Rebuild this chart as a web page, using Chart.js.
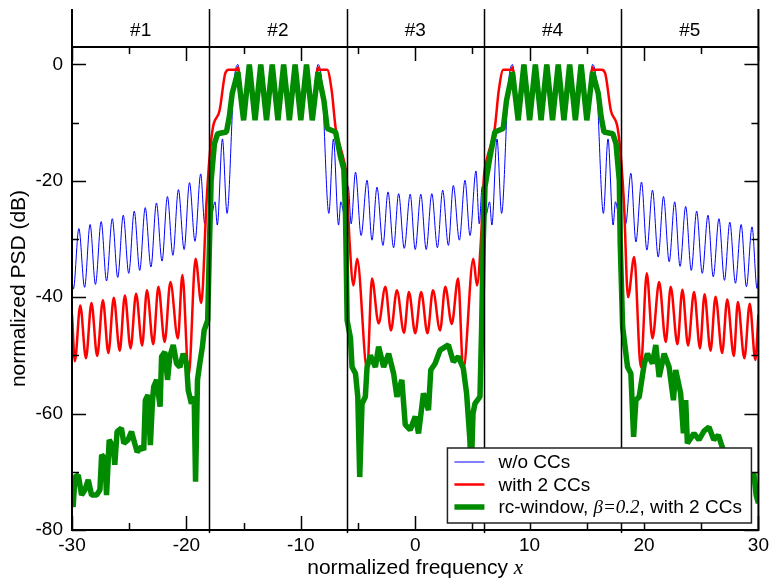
<!DOCTYPE html>
<html>
<head>
<meta charset="utf-8">
<script src="https://cdn.jsdelivr.net/npm/chart.js@4.4.1/dist/chart.umd.min.js"></script>
<style>
html, body { margin: 0; padding: 0; background: #fff; }
</style>
</head>
<body>
<canvas id="chart" width="773" height="583"></canvas>
<script>
// axis ranges and ticks
const xMin = -30, xMax = 30, yMin = -80, yMax = 3;
const xTicksMajor = [-30, -20, -10, 0, 10, 20, 30];
const xTicksMinor = [-25, -15, -5, 5, 15, 25];
const yTicksMajor = [0, -20, -40, -60, -80];
const yTicksMinor = [-10, -30, -50, -70];

// channel bands on the top strip
const bandEdges = [-18, -6, 6, 18];
const bandLabels = ['#1', '#2', '#3', '#4', '#5'];
const bandCenters = [-24, -12, 0, 12, 24];

const seriesNames = ['w/o CCs', 'with 2 CCs', 'rc-window, β=0.2, with 2 CCs'];

// [x, dB]
const bluePoints = [
	[-30, -37], [-29.88, -38.6], [-29.4, -28.2], [-28.9, -38.3], [-28.42, -27.5], [-27.95, -37.8],
	[-27.45, -27.0], [-26.98, -37.2], [-26.48, -26.5], [-26.0, -36.6], [-25.52, -25.9], [-25.04, -35.9],
	[-24.56, -25.2], [-24.08, -35.4], [-23.6, -24.6], [-23.1, -34.8], [-22.62, -23.8], [-22.13, -33.8],
	[-21.66, -22.7], [-21.18, -32.8], [-20.7, -21.5], [-20.2, -31.8], [-19.73, -20.3], [-19.25, -30.4],
	[-18.75, -18.8], [-18.4, -27.4], [-18.15, -21.0], [-17.8, -25.8], [-17.5, -23.6], [-17.3, -27.6],
	[-16.85, -12.8], [-16.45, -25.6], [-15.85, -3.3], [-15.5, 0.0], [-15.0, -9], [-14.5, -0.2],
	[-14.0, -9], [-13.5, -0.2], [-13.0, -9], [-12.5, -0.2], [-12.0, -9], [-11.5, -0.2],
	[-11.0, -9], [-10.5, -0.2], [-10.0, -9], [-9.5, -0.2], [-9.0, -9], [-8.5, 0.0],
	[-8.15, -3.3], [-7.55, -25.6], [-7.15, -12.8], [-6.7, -27.6], [-6.5, -23.6], [-6.2, -25.8],
	[-5.85, -21.0], [-5.6, -27.4], [-5.22, -18.5], [-4.73, -29.4], [-4.21, -19.9], [-3.78, -30.2],
	[-3.34, -21.1], [-2.82, -31.1], [-2.38, -21.9], [-1.89, -31.5], [-1.45, -22.2], [-0.96, -31.6],
	[-0.44, -22.3], [0.0, -31.8], [0.49, -22.3], [0.96, -31.8], [1.45, -22.2], [1.94, -31.5],
	[2.4, -21.6], [2.9, -31.1], [3.33, -20.8], [3.86, -30.2], [4.35, -19.9], [4.79, -29.4],
	[5.31, -18.3], [5.6, -27.4], [5.85, -21.0], [6.2, -25.8], [6.5, -23.6], [6.7, -27.6],
	[7.15, -12.8], [7.55, -25.6], [8.15, -3.3], [8.5, 0.0], [9.0, -9], [9.5, -0.2],
	[10.0, -9], [10.5, -0.2], [11.0, -9], [11.5, -0.2], [12.0, -9], [12.5, -0.2],
	[13.0, -9], [13.5, -0.2], [14.0, -9], [14.5, -0.2], [15.0, -9], [15.5, 0.0],
	[15.85, -3.3], [16.45, -25.6], [16.85, -12.8], [17.3, -27.6], [17.5, -23.6], [17.8, -25.8],
	[18.15, -21.0], [18.4, -27.4], [18.85, -18.7], [19.29, -30.5], [19.78, -20.2], [20.25, -31.9],
	[20.74, -21.6], [21.24, -33.1], [21.7, -22.7], [22.2, -33.9], [22.68, -23.6], [23.15, -34.7],
	[23.64, -24.4], [24.13, -35.4], [24.6, -25.2], [25.09, -35.9], [25.59, -25.9], [26.05, -36.5],
	[26.55, -26.5], [27.03, -37.1], [27.5, -27.1], [27.99, -37.6], [28.49, -27.5], [28.95, -38.2],
	[29.44, -27.9], [29.88, -38.5], [30, -37]
];
const redPoints = [
	[-30, -43], [-29.75, -51], [-29.28, -41.4], [-28.78, -50.5], [-28.3, -41.0], [-27.8, -50.1],
	[-27.3, -40.5], [-26.82, -49.6], [-26.35, -40.1], [-25.83, -49.2], [-25.38, -39.7], [-24.88, -48.8],
	[-24.4, -39.4], [-23.87, -48.3], [-23.45, -38.8], [-22.9, -48.1], [-22.45, -38.2], [-21.9, -47.7],
	[-21.4, -37.4], [-20.75, -47.1], [-20.35, -36.2], [-19.8, -53.5], [-19.2, -33.4], [-18.7, -41],
	[-18.25, -24], [-18.0, -16.5], [-17.7, -11], [-17.1, -7.9], [-16.6, -1.5], [-16.3, -0.9],
	[-15.6, -0.9], [-15.5, -0.5], [-15.0, -9], [-14.5, -0.2], [-14.0, -9], [-13.5, -0.2],
	[-13.0, -9], [-12.5, -0.2], [-12.0, -9], [-11.5, -0.2], [-11.0, -9], [-10.5, -0.2],
	[-10.0, -9], [-9.5, -0.2], [-9.0, -9], [-8.5, -0.5], [-8.4, -0.9],
	[-7.7, -0.9], [-7.3, -4.5], [-6.95, -11], [-6.3, -16], [-6.0, -19.5], [-5.75, -30],
	[-5.4, -38], [-5.08, -33.4], [-4.2, -52.5], [-3.78, -36.8], [-3.2, -44.5], [-2.61, -38.2],
	[-2.12, -45.7], [-1.6, -38.8], [-0.98, -46.1], [-0.55, -39.1], [0.0, -46.2], [0.52, -39.1],
	[1.07, -46.2], [1.55, -38.8], [2.17, -45.7], [2.63, -38.2], [3.19, -44.6], [3.75, -36.8],
	[4.2, -52.5], [5.08, -33.4], [5.4, -38], [5.75, -30], [6.0, -19.5], [6.3, -16],
	[6.95, -11], [7.3, -4.5], [7.7, -0.9], [8.4, -0.9], [8.5, -0.5], [9.0, -9],
	[9.5, -0.2], [10.0, -9], [10.5, -0.2], [11.0, -9], [11.5, -0.2], [12.0, -9],
	[12.5, -0.2], [13.0, -9], [13.5, -0.2], [14.0, -9], [14.5, -0.2], [15.0, -9],
	[15.5, -0.5], [15.6, -0.9], [16.3, -0.9], [16.6, -1.5], [17.1, -7.9],
	[17.7, -11], [18.0, -16.5], [18.25, -24], [18.6, -40], [19.14, -33.1], [19.72, -52],
	[20.24, -35.9], [20.74, -47.1], [21.32, -37.4], [21.9, -47.7], [22.33, -38.2], [22.92, -48.1],
	[23.35, -38.7], [23.85, -48.3], [24.37, -39.1], [24.89, -48.8], [25.29, -39.5], [25.81, -49.2],
	[26.25, -39.9], [26.83, -49.6], [27.27, -40.4], [27.85, -50.1], [28.2, -40.8], [28.77, -50.5],
	[29.24, -41.1], [29.73, -50.8], [30, -43]
];
const greenPoints = [
	[-30, -75.4], [-29.9, -76], [-29.74, -70.9], [-29.45, -70.6], [-29.16, -74], [-28.87, -73.1],
	[-28.58, -71.4], [-28.29, -74], [-27.85, -74], [-27.56, -73.1], [-27.41, -67.1], [-27.13, -67.7],
	[-26.98, -74], [-26.75, -64.5], [-26.4, -65.7], [-26.26, -68.8], [-26.06, -63.1], [-25.68, -62.5],
	[-25.47, -65.1], [-25.1, -64.5], [-24.8, -63.1], [-24.52, -65.1], [-24.3, -66.6], [-23.93, -65.7],
	[-23.73, -66.3], [-23.59, -57.7], [-23.36, -56.8], [-23.15, -65.4], [-22.98, -58.3], [-22.86, -55.4],
	[-22.6, -54.2], [-22.3, -58.8], [-22.17, -50.2], [-21.88, -49.4], [-21.65, -54.2], [-21.45, -50.2],
	[-21.15, -48.2], [-20.86, -51.4], [-20.57, -52], [-20.28, -49.7], [-19.99, -51.4], [-19.84, -56],
	[-19.56, -58.3], [-19.32, -57.1], [-19.2, -71.7], [-19.03, -54.2], [-18.83, -51.4], [-18.6, -48.5],
	[-18.45, -45.7], [-18.14, -44], [-17.99, -31.4], [-17.84, -20], [-17.55, -13.6], [-17.27, -11.9],
	[-16.5, -11.6], [-16.25, -9], [-16.0, -5], [-15.5, -1.3], [-15.0, -9.6], [-14.5, 0],
	[-14.0, -9.6], [-13.5, 0], [-13.0, -9.6], [-12.5, 0], [-12.0, -9.6], [-11.5, 0],
	[-11.0, -9.6], [-10.5, 0], [-10.0, -9.6], [-9.5, 0], [-9.0, -9.6], [-8.5, -1.3],
	[-7.98, -6.2], [-7.69, -11], [-6.96, -11.6], [-6.53, -15.9], [-6.24, -18], [-6.1, -25],
	[-5.95, -44], [-5.66, -47], [-5.52, -52], [-5.22, -53.1], [-5.02, -57.1], [-4.85, -70.9],
	[-4.65, -58.3], [-4.36, -57.1], [-4.21, -52], [-3.92, -50], [-3.48, -52], [-3.2, -48.5],
	[-2.76, -52], [-2.32, -49.7], [-1.89, -53.1], [-1.6, -57.1], [-1.17, -54.2], [-0.87, -61.9],
	[-0.44, -62.8], [0.0, -60.5], [0.29, -63.4], [0.72, -56.5], [1.16, -59.4], [1.36, -52.5],
	[1.74, -51.4], [2.17, -49.1], [2.9, -48.2], [3.33, -51.1], [3.77, -50.2], [4.2, -52.2],
	[4.49, -56.5], [4.78, -64.5], [4.88, -71], [5.05, -60], [5.22, -58.3], [5.66, -57.1],
	[5.8, -45.7], [5.95, -30], [6.1, -21], [6.53, -15.9], [6.96, -11.6], [7.69, -11],
	[7.98, -6.2], [8.5, -1.3], [9.0, -9.6], [9.5, 0], [10.0, -9.6], [10.5, 0],
	[11.0, -9.6], [11.5, 0], [12.0, -9.6], [12.5, 0], [13.0, -9.6], [13.5, 0],
	[14.0, -9.6], [14.5, 0], [15.0, -9.6], [15.5, -1.3], [16.0, -5], [16.25, -9],
	[16.5, -11.6], [17.27, -11.9], [17.55, -13.6], [17.84, -20], [17.92, -30.8], [18.13, -45.1],
	[18.56, -52], [18.85, -53.1], [19.09, -64], [19.29, -57.7], [19.58, -57.1], [20.02, -51.4],
	[20.3, -49.7], [20.74, -51.4], [21.03, -48.2], [21.32, -53.7], [21.76, -49.7], [22.19, -52],
	[22.57, -57.7], [22.77, -52.5], [23.2, -56.5], [23.44, -63.4], [23.64, -57.7], [23.79, -65.1],
	[24.37, -63.4], [24.8, -64.5], [25.24, -63], [25.67, -62.3], [26.1, -64.5], [26.5, -63.7],
	[26.83, -65.7], [27.3, -68], [28.0, -69], [28.7, -70], [29.3, -71], [29.6, -70.3],
	[29.8, -74], [30, -75.4]
];

const colors = { blue: '#0000ff', red: '#ff0000', green: '#008b00', axis: '#000000' };
const sans = '"Liberation Sans", Arial, Helvetica, sans-serif';
const serif = '"Liberation Serif", "Times New Roman", serif';

const toXY = points => points.map(p => ({ x: p[0], y: p[1] }));

const legendRows = [
	{ color: colors.blue, width: 1, parts: [[seriesNames[0], false]] },
	{ color: colors.red, width: 2.5, parts: [[seriesNames[1], false]] },
	{ color: colors.green, width: 5.5, parts: [['rc-window, ', false], ['β=0.2', true], [', with 2 CCs', false]] }
];

const line = (ctx, x1, y1, x2, y2) => {
	ctx.beginPath();
	ctx.moveTo(x1, y1);
	ctx.lineTo(x2, y2);
	ctx.stroke();
};

const decorations = {
	id: 'decorations',
	afterDatasetsDraw(chart) {
		const ctx = chart.ctx;
		const area = chart.chartArea;
		const xs = chart.scales.x;
		const ys = chart.scales.y;
		const stripTop = 9;
		ctx.save();
		ctx.strokeStyle = colors.axis;
		ctx.lineCap = 'butt';

		// frame
		ctx.lineWidth = 2;
		line(ctx, area.left, stripTop, area.left, area.bottom + 1);
		line(ctx, area.right, stripTop, area.right, area.bottom + 1);
		line(ctx, area.left, area.top, area.right, area.top);
		line(ctx, area.left, area.bottom, area.right, area.bottom);

		// band separators
		ctx.lineWidth = 1.5;
		bandEdges.forEach(v => {
			const px = Math.round(xs.getPixelForValue(v)) + 0.5;
			line(ctx, px, stripTop, px, area.bottom + 3);
		});

		// inward ticks on all four sides
		ctx.lineWidth = 1.5;
		const major = 14, minor = 7;
		xTicksMajor.concat(xTicksMinor).forEach(v => {
			const len = xTicksMajor.includes(v) ? major : minor;
			const px = Math.round(xs.getPixelForValue(v)) + 0.5;
			line(ctx, px, area.bottom, px, area.bottom - len);
			line(ctx, px, area.top, px, area.top + len);
		});
		yTicksMajor.concat(yTicksMinor).forEach(v => {
			const len = yTicksMajor.includes(v) ? major : minor;
			const py = Math.round(ys.getPixelForValue(v)) + 0.5;
			line(ctx, area.left, py, area.left + len, py);
			line(ctx, area.right, py, area.right - len, py);
		});

		// band labels
		ctx.fillStyle = '#000';
		ctx.font = '19px ' + sans;
		ctx.textAlign = 'center';
		ctx.textBaseline = 'middle';
		bandLabels.forEach((t, i) => {
			ctx.fillText(t, xs.getPixelForValue(bandCenters[i]), (stripTop + area.top) / 2 + 3);
		});

		// x title with italic x
		ctx.textBaseline = 'alphabetic';
		ctx.textAlign = 'left';
		const tMain = 'normalized frequency ';
		ctx.font = '21px ' + sans;
		const w1 = ctx.measureText(tMain).width;
		ctx.font = 'italic 21px ' + serif;
		const w2 = ctx.measureText('x').width;
		let tx = (area.left + area.right) / 2 - (w1 + w2) / 2;
		ctx.font = '21px ' + sans;
		ctx.fillText(tMain, tx, area.bottom + 44);
		ctx.font = 'italic 21px ' + serif;
		ctx.fillText('x', tx + w1, area.bottom + 44);

		// y title
		ctx.save();
		ctx.translate(25, (area.top + area.bottom) / 2);
		ctx.rotate(-Math.PI / 2);
		ctx.textAlign = 'center';
		ctx.font = '21px ' + sans;
		ctx.fillText('normalized PSD (dB)', 0, 0);
		ctx.restore();

		// legend box
		const lx = area.right - 311, ly = area.bottom - 82, lw = 304, lh = 75;
		ctx.fillStyle = '#fff';
		ctx.fillRect(lx, ly, lw, lh);
		ctx.lineWidth = 1.5;
		ctx.strokeStyle = '#222';
		ctx.strokeRect(lx, ly, lw, lh);
		ctx.textBaseline = 'middle';
		legendRows.forEach((row, i) => {
			const ry = ly + 14 + i * 22.5;
			ctx.strokeStyle = row.color;
			ctx.lineWidth = row.width;
			line(ctx, lx + 7, ry, lx + 37, ry);
			let cx = lx + 51;
			ctx.fillStyle = '#000';
			row.parts.forEach(part => {
				ctx.font = part[1] ? 'italic 19px ' + serif : '19px ' + sans;
				ctx.fillText(part[0], cx, ry + 1);
				cx += ctx.measureText(part[0]).width;
			});
		});
		ctx.restore();
	}
};

new Chart(document.getElementById('chart'), {
	type: 'line',
	data: {
		datasets: [{
			label: seriesNames[0],
			data: toXY(bluePoints),
			borderColor: colors.blue,
			borderWidth: 1,
			cubicInterpolationMode: 'monotone',
			order: 3
		}, {
			label: seriesNames[1],
			data: toXY(redPoints),
			borderColor: colors.red,
			borderWidth: 2.5,
			borderJoinStyle: 'round',
			cubicInterpolationMode: 'monotone',
			order: 2
		}, {
			label: seriesNames[2],
			data: toXY(greenPoints),
			borderColor: colors.green,
			borderWidth: 5.5,
			borderJoinStyle: 'bevel',
			tension: 0,
			order: 1
		}]
	},
	options: {
		responsive: false,
		devicePixelRatio: 1,
		animation: false,
		elements: {
			point: { radius: 0 },
			line: { tension: 0.4, fill: false }
		},
		layout: { padding: { left: 0, right: 11, top: 47, bottom: 0 } },
		plugins: { legend: { display: false }, tooltip: { enabled: false } },
		scales: {
			x: {
				type: 'linear',
				min: xMin,
				max: xMax,
				grid: { display: false, drawTicks: false },
				border: { display: false },
				afterFit: scale => { scale.height = 53; },
				ticks: {
					stepSize: 10,
					includeBounds: false,
					maxRotation: 0,
					padding: 4,
					color: '#000',
					font: { family: sans, size: 19 }
				}
			},
			y: {
				type: 'linear',
				min: yMin,
				max: yMax,
				grid: { display: false, drawTicks: false },
				border: { display: false },
				afterFit: scale => { scale.width = 72; },
				ticks: {
					stepSize: 20,
					includeBounds: false,
					padding: 9,
					color: '#000',
					font: { family: sans, size: 19 }
				}
			}
		}
	},
	plugins: [decorations]
});
</script>
</body>
</html>
